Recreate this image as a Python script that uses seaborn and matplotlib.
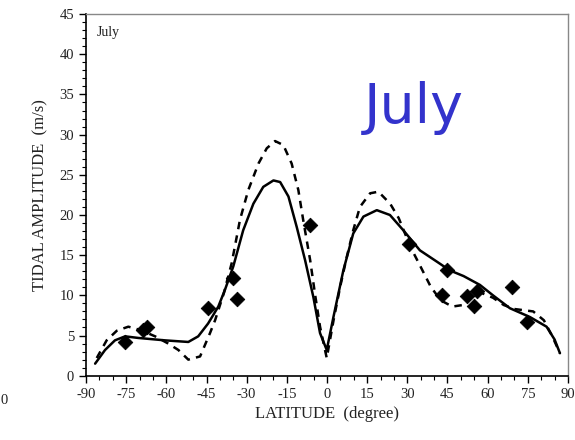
import matplotlib
matplotlib.use("Agg")
import matplotlib.pyplot as plt
import seaborn as sns
import pandas as pd
from matplotlib.ticker import MultipleLocator

# Observed data points (diamonds)
obs_lat = [-75.4, -68.7, -67.2, -44.4, -35.1, -33.6, -6.3, 30.6, 44.7, 43.0, 52.1, 55.9, 55.0, 69.2, 74.8]
obs_amp = [4.2, 5.7, 6.1, 8.4, 12.1, 9.5, 18.8, 16.4, 13.1, 10.0, 9.9, 10.6, 8.7, 11.0, 6.7]

# Solid model curve
solid_lat = [-86.6, -82.9, -79.2, -75.4, -70.5, -60.5, -51.8, -48.1, -44.4, -40.6, -38.1, -35.0,
             -31.3, -27.5, -23.8, -20.0, -17.5, -14.4, -11.3, -8.2, -5.1, -2.6, -0.1, 2.4,
             6.1, 9.8, 13.6, 18.6, 23.5, 28.5, 34.7, 41.0, 45.9, 51.0, 57.1, 62.0, 68.3,
             75.8, 82.0, 85.0, 87.0]
solid_amp = [1.5, 3.2, 4.4, 4.9, 4.7, 4.4, 4.2, 4.9, 6.5, 8.6, 10.7, 13.6,
             18.1, 21.4, 23.5, 24.3, 24.1, 22.3, 18.5, 14.4, 9.8, 5.3, 3.2, 7.3,
             13.1, 17.7, 19.8, 20.6, 20.0, 18.1, 15.6, 14.2, 13.1, 12.4, 11.3, 10.0, 8.4,
             7.3, 6.1, 4.5, 2.8]

# Dashed model curve
dash_lat = [-86.0, -82.3, -78.5, -74.2, -69.8, -64.2, -59.3, -55.5, -51.8, -47.4, -43.7, -41.8,
            -38.5, -35.6, -32.5, -29.4, -25.6, -22.5, -19.4, -16.3, -13.2, -10.7, -8.9, -6.3,
            -4.5, -2.6, -0.1, 2.5, 5.0, 7.4, 9.8, 12.3, 16.1, 19.2, 23.6, 26.8, 31.2, 34.9,
            38.7, 42.4, 46.8, 50.8, 54.0, 57.0, 62.0, 66.0, 70.0, 77.0, 81.0, 84.0, 87.0]
dash_amp = [2.2, 4.4, 5.6, 6.1, 5.7, 4.9, 4.0, 3.2, 2.0, 2.4, 5.3, 6.9,
            10.3, 14.0, 19.4, 23.1, 26.4, 28.3, 29.2, 28.7, 26.4, 23.1, 19.4, 14.4,
            10.2, 6.1, 2.2, 7.0, 11.2, 14.8, 18.1, 21.0, 22.7, 22.9, 21.4, 19.6, 16.0, 13.6,
            11.1, 9.4, 8.6, 8.8, 9.8, 10.4, 9.7, 8.8, 8.3, 8.0, 6.9, 5.0, 2.8]

x_ticks = [-90, -75, -60, -45, -30, -15, 0, 15, 30, 45, 60, 75, 90]
y_ticks = [0, 5, 10, 15, 20, 25, 30, 35, 40, 45]

sns.set_theme(style="ticks")
plt.rcParams['font.family'] = ['Liberation Serif', 'DejaVu Serif']
plt.rcParams['axes.unicode_minus'] = False

fig = plt.figure(figsize=(5.75, 4.4), dpi=100)
ax = fig.add_axes([0.1496, 0.1461, 0.9878 - 0.1496, 0.968 - 0.1461])

solid_df = pd.DataFrame({"lat": solid_lat, "amp": solid_amp})
dash_df = pd.DataFrame({"lat": dash_lat, "amp": dash_amp})
obs_df = pd.DataFrame({"lat": obs_lat, "amp": obs_amp})

sns.lineplot(data=solid_df, x="lat", y="amp", ax=ax, color="black", lw=1.8, sort=True,
             solid_joinstyle="round")
sns.lineplot(data=dash_df, x="lat", y="amp", ax=ax, color="black", lw=1.8, sort=True,
             dashes=False, linestyle=(0, (3, 2.5)))
sns.scatterplot(data=obs_df, x="lat", y="amp", ax=ax, marker="D", s=55, color="black",
                edgecolor="black", zorder=5)

ax.set_xlim(-90, 90)
ax.set_ylim(0, 45)
ax.set_xticks(x_ticks)
ax.set_yticks(y_ticks)
ax.xaxis.set_minor_locator(MultipleLocator(5))
ax.yaxis.set_minor_locator(MultipleLocator(1))
ax.tick_params(axis="both", which="major", direction="out", length=5, width=1, labelsize=10.5,
               colors="black", labelcolor="#222222")
ax.tick_params(axis="both", which="minor", direction="out", length=3, width=0.8, colors="black")
ax.tick_params(top=False, right=False, which="both")
ax.set_xlabel("LATITUDE  (degree)", fontsize=12, color="#222222", labelpad=4)
ax.set_ylabel("TIDAL AMPLITUDE  (m/s)", fontsize=12, color="#222222", labelpad=8)

for s in ["left", "bottom"]:
    ax.spines[s].set_color("black")
    ax.spines[s].set_linewidth(1.2)
for s in ["top", "right"]:
    ax.spines[s].set_color("#888888")
    ax.spines[s].set_linewidth(1.0)
    ax.spines[s].set_visible(True)

ax.text(-86, 43.5, "July", fontsize=10, va="top", ha="left", color="#222222")
ax.text(0.68, 0.74, "July", transform=ax.transAxes, fontsize=40, color="#3333CC",
        family=["DejaVu Sans"], ha="center", va="center")
fig.text(0.001, 1 - 400 / 440, "0", fontsize=10.5, color="#222222", ha="left", va="center")

fig.savefig("out.png", dpi=100, facecolor="white")
